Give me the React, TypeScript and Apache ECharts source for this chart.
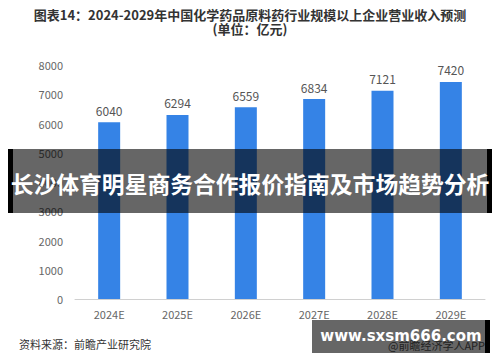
import React, { useEffect, useRef } from "react";
import * as echarts from "echarts";

const categories = ["2024E", "2025E", "2026E", "2027E", "2028E", "2029E"];
const revenue = [6040, 6294, 6559, 6834, 7121, 7420];
const titleLine1 = "图表14：2024-2029年中国化学药品原料药行业规模以上企业营业收入预测";
const titleLine2 = "(单位：亿元)";
const sourceText = "资料来源：前瞻产业研究院";
const creditText = "@前瞻经济学人APP";
const bannerText = "长沙体育明星商务合作报价指南及市场趋势分析";
const urlText = "www.sxsm666.com";

const CJK = '"Noto Sans CJK SC", "Noto Sans", sans-serif';

export default function App() {
  const ref = useRef<HTMLDivElement>(null);
  useEffect(() => {
    document.body.style.margin = "0";
    const chart = echarts.init(ref.current!, null, { renderer: "svg" });
    chart.setOption({
      animation: false,
      backgroundColor: "#ffffff",
      grid: { left: 75, right: 15, top: 65, bottom: 63 },
      xAxis: {
        type: "category",
        data: categories,
        axisLine: { lineStyle: { color: "#d0d0d0" } },
        axisTick: { show: false },
        axisLabel: { color: "#666", fontSize: 11, margin: 9, fontFamily: CJK },
      },
      yAxis: {
        type: "value",
        min: 0,
        max: 8000,
        interval: 1000,
        axisLine: { show: false },
        axisTick: { show: false },
        splitLine: { show: false },
        axisLabel: {
          color: "#666",
          fontSize: 11,
          margin: 12,
          fontFamily: CJK,
          formatter: (v: number) => String(v),
        },
      },
      series: [
        {
          type: "bar",
          data: revenue,
          barWidth: 22,
          itemStyle: { color: "#3583e6" },
          label: {
            show: true,
            position: "top",
            distance: 6,
            color: "#555",
            fontSize: 12,
            fontFamily: CJK,
          },
          z: 2,
        },
      ],
      graphic: [
        {
          type: "text",
          left: "center",
          top: 8,
          style: { text: titleLine1, font: `bold 13px ${CJK}`, fill: "#333" },
          z: 10,
        },
        {
          type: "text",
          left: "center",
          top: 22,
          style: { text: titleLine2, font: `bold 13px ${CJK}`, fill: "#333" },
          z: 10,
        },
        {
          type: "text",
          left: 19,
          top: 338,
          style: { text: sourceText, font: `11px ${CJK}`, fill: "#333" },
          z: 10,
        },
        {
          type: "text",
          right: 15,
          top: 339,
          style: { text: creditText, font: `11px ${CJK}`, fill: "#555" },
          z: 10,
        },
        // main banner
        {
          type: "rect",
          shape: { x: 13, y: 149, width: 474, height: 64 },
          style: { fill: "rgba(0,0,0,0.6)" },
          z: 50,
        },
        {
          type: "rect",
          shape: { x: 8, y: 149, width: 5, height: 64 },
          style: { fill: "#000" },
          z: 50,
        },
        {
          type: "rect",
          shape: { x: 487, y: 149, width: 5, height: 64 },
          style: { fill: "#000" },
          z: 50,
        },
        {
          type: "text",
          x: 250,
          y: 183,
          style: {
            text: bannerText,
            font: `bold 22.8px ${CJK}`,
            fill: "#fff",
            align: "center",
            verticalAlign: "middle",
          },
          z: 51,
        },
        // url banner
        {
          type: "rect",
          shape: { x: 312, y: 320, width: 173, height: 33 },
          style: { fill: "rgba(0,0,0,0.6)" },
          z: 50,
        },
        {
          type: "rect",
          shape: { x: 485, y: 320, width: 5, height: 33 },
          style: { fill: "#000" },
          z: 50,
        },
        {
          type: "text",
          x: 401,
          y: 336,
          style: {
            text: urlText,
            font: `bold 15px "DejaVu Sans", sans-serif`,
            fill: "#fff",
            align: "center",
            verticalAlign: "middle",
          },
          z: 51,
        },
      ],
    });
    return () => chart.dispose();
  }, []);
  return (
    <div
      ref={ref}
      style={{ position: "absolute", left: 0, top: 0, width: 500, height: 362 }}
    />
  );
}
